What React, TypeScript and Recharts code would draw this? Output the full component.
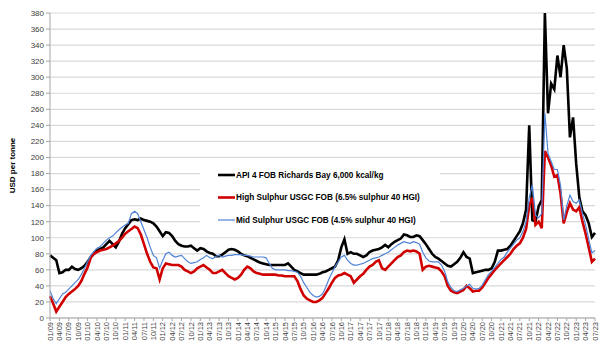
import { CartesianGrid, Legend, Line, LineChart, XAxis, YAxis } from 'recharts';

// monthly values, Jan 2009 .. Jul 2023 (USD per tonne)
const API4 = [
  78, 75, 72, 56, 57, 60, 60, 64, 61, 60, 62, 65,
  70, 76, 80, 84, 86, 88, 92, 96, 92, 88, 95, 105,
  112, 117, 122, 123, 122, 124, 122, 121, 120, 118, 114, 108,
  102, 107, 106, 102, 96, 92, 90, 89, 89, 90, 87, 84,
  87, 86, 83, 81, 80, 77, 77, 79, 82, 85, 86, 85,
  83, 80, 78, 77, 75, 73, 71, 69, 68, 67, 66, 66,
  66, 66, 66, 66, 68, 64, 60, 58, 56, 54, 54, 54,
  54, 54, 55, 57, 58, 60, 62, 64, 72, 88, 98, 80,
  82, 80, 80, 78, 76, 78, 82, 84, 85, 86, 88, 91,
  88, 92, 95, 97, 99, 104, 103, 101, 101, 103, 102, 97,
  92, 86, 80, 76, 74, 71, 68, 65, 64, 67, 70, 75,
  82, 76, 74, 56, 57, 58, 59, 60, 60, 62, 70, 84,
  84, 85, 86, 90, 96, 102, 108, 118, 135, 240, 122, 120,
  139, 147, 380, 255, 292, 285, 327, 300, 340, 311, 225, 250,
  192, 150, 133, 128, 118, 101, 106,
];

const HIGH_SULPHUR = [
  27, 18, 8, 14, 20, 26, 30, 33, 36, 40, 46, 55,
  63, 75, 80, 82, 84, 85, 86, 88, 90, 93, 96, 100,
  105, 108, 111, 114, 112, 104, 92, 80, 70, 63, 62, 48,
  62, 68, 67, 66, 66, 66, 64, 60, 58, 56, 58, 62,
  64, 66, 63, 60, 56, 56, 58, 60, 56, 52, 50, 48,
  50, 54, 60, 64, 62, 58, 56, 55, 54, 54, 54, 54,
  54, 53, 53, 52, 52, 52, 52, 46, 36, 28, 24, 22,
  20, 20, 22, 25, 31, 37, 44, 50, 53, 54, 56, 54,
  52, 44, 48, 52, 55, 60, 64, 66, 70, 72, 62, 60,
  64, 68, 72, 76, 78, 82, 84, 83, 84, 83, 80, 60,
  64, 65, 64, 63, 62, 58, 52, 40, 34, 32, 31, 33,
  35, 40, 37, 33, 34, 34, 38, 44, 50, 55, 60, 64,
  68, 72, 76, 80, 86, 90, 93, 100, 111, 140, 150, 116,
  120, 112, 208, 200, 190, 176, 178, 155, 118, 132, 143, 135,
  133, 138, 120, 105, 88, 70, 74,
];

const MID_SULPHUR = [
  34, 24, 18, 24, 30, 32, 36, 40, 44, 48, 54, 62,
  70, 78, 83, 87, 89, 93, 97, 100, 102, 106, 110, 113,
  116, 118, 130, 133, 130, 120, 110, 100, 88, 78, 75, 62,
  72, 80, 82, 78, 76, 77, 78, 74, 70, 68, 69, 70,
  73, 75, 78, 75, 74, 77, 78, 76, 77, 78, 78, 79,
  79, 79, 78, 78, 77, 76, 76, 76, 76, 75, 68, 62,
  60, 60, 60, 60, 59, 59, 58, 57, 52, 44, 38, 32,
  28, 26, 27, 30, 38, 48, 56, 64, 70, 76, 78, 72,
  68, 66, 66, 67, 68, 70, 72, 74, 75, 76, 78, 80,
  82, 85, 88, 91, 93, 95, 94, 93, 95, 94, 92, 82,
  75, 71, 70, 70, 70, 66, 58, 45, 38, 34, 33, 35,
  37, 40, 42, 37, 36, 37, 41, 48, 54, 58, 63, 68,
  73, 76, 82, 87, 92, 97, 100, 108, 120, 150, 166, 128,
  125, 130, 255, 205, 195, 185, 185, 165, 122, 140, 153, 145,
  143, 147, 130, 116, 98, 81, 84,
];

// category labels mm/yy, one per month
const MONTHS = API4.map((_, i) => {
  const m = (i % 12) + 1;
  const y = 9 + Math.floor(i / 12);
  return `${String(m).padStart(2, '0')}/${String(y).padStart(2, '0')}`;
});

const Y_TICKS = [0, 20, 40, 60, 80, 100, 120, 140, 160, 180, 200, 220, 240, 260, 280, 300, 320, 340, 360, 380];

const SERIES = [
  { key: 'api4', name: 'API 4 FOB Richards Bay 6,000 kcal/kg', color: '#000000', width: 2.6 },
  { key: 'high', name: 'High Sulphur USGC FOB (6.5% sulphur 40 HGI)', color: '#d10000', width: 2.6 },
  { key: 'mid', name: 'Mid Sulphur USGC FOB (4.5% sulphur 40 HGI)', color: '#4f83d6', width: 1.2 },
];

const data = MONTHS.map((month, i) => ({
  month,
  api4: API4[i],
  high: HIGH_SULPHUR[i],
  mid: MID_SULPHUR[i],
}));

const FONT = 'Arial, "Liberation Sans", sans-serif';

function MonthTick({ x, y, payload }: any) {
  return (
    <text
      x={x}
      y={y}
      transform={`rotate(-90 ${x} ${y})`}
      textAnchor="end"
      dy="0.35em"
      fontSize={7.5}
      fontFamily={FONT}
      fill="#404040"
    >
      {payload.value}
    </text>
  );
}

function LegendBox() {
  return (
    <svg width={240} height={66} style={{ display: 'block' }}>
      {SERIES.map((s, i) => {
        const cy = 12 + i * 22.5;
        return (
          <g key={s.key}>
            <line x1={18} x2={35} y1={cy} y2={cy} stroke={s.color} strokeWidth={s.width} />
            <text x={36} y={cy} dy="0.35em" fontSize={8.2} fontWeight="bold" fontFamily={FONT} fill="#000">
              {s.name}
            </text>
          </g>
        );
      })}
    </svg>
  );
}

export default function App() {
  return (
    <div style={{ position: 'absolute', left: 0, top: 0, width: 600, height: 357, background: '#fff' }}>
      <LineChart width={600} height={357} data={data} margin={{ top: 13, right: 5, bottom: 9, left: 0 }}>
        <CartesianGrid vertical={false} stroke="#d9d9d9" strokeWidth={1.2} />
        <XAxis
          dataKey="month"
          interval={2}
          height={30}
          tickSize={3}
          tickMargin={1}
          tick={<MonthTick />}
          axisLine={{ stroke: '#a6a6a6' }}
          tickLine={{ stroke: '#a6a6a6' }}
        />
        <YAxis
          width={50}
          domain={[0, 380]}
          ticks={Y_TICKS}
          interval={0}
          tickSize={4}
          tickMargin={2}
          axisLine={{ stroke: '#a6a6a6' }}
          tickLine={{ stroke: '#a6a6a6' }}
          tick={{ fontSize: 8, fill: '#404040', fontFamily: FONT }}
          label={{
            value: 'USD per tonne',
            angle: -90,
            position: 'insideLeft',
            offset: 12,
            style: { fontSize: 8, fontWeight: 'bold', fontFamily: FONT, fill: '#000', textAnchor: 'middle' },
          }}
        />
        {SERIES.map((s) => (
          <Line
            key={s.key}
            type="linear"
            dataKey={s.key}
            name={s.name}
            stroke={s.color}
            strokeWidth={s.width}
            dot={false}
            isAnimationActive={false}
          />
        ))}
        <Legend
          layout="vertical"
          align="center"
          verticalAlign="middle"
          content={<LegendBox />}
          wrapperStyle={{ left: 200, top: 163, width: 240, height: 66, backgroundColor: '#fff' }}
        />
      </LineChart>
    </div>
  );
}
